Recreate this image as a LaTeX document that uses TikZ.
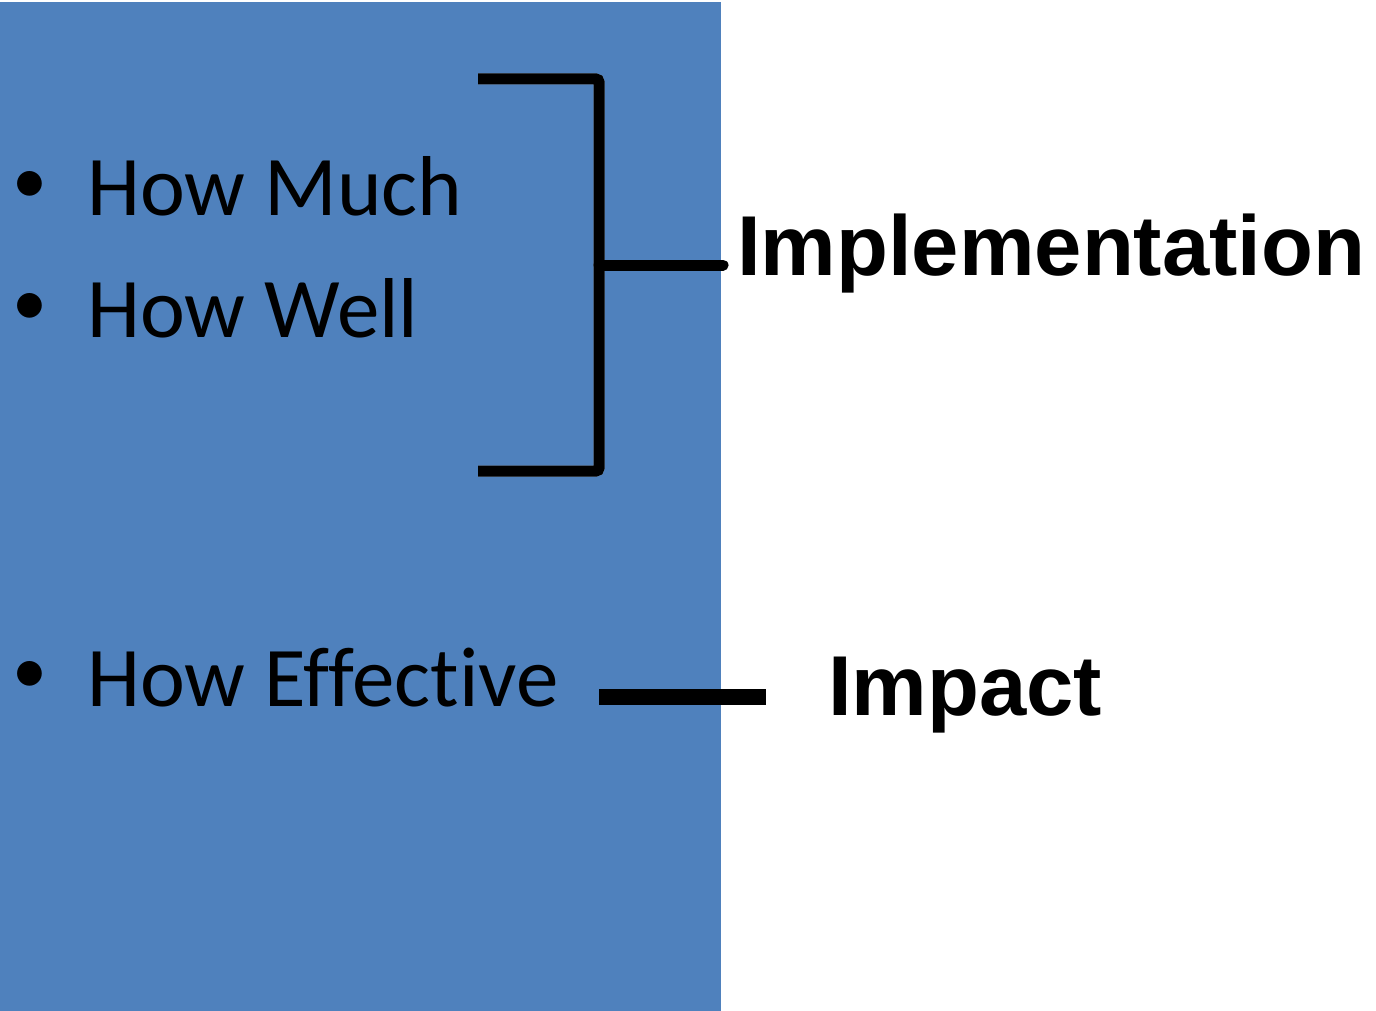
\documentclass[tikz,border=0pt]{standalone}
\usepackage{fontspec}
\setmainfont{Carlito}[Ligatures={NoCommon}]
\newfontfamily\arialb{Liberation Sans Bold}
\definecolor{slideblue}{HTML}{4F81BD}
\begin{document}
\begin{tikzpicture}[x=1pt,y=-1pt,
  itemtext/.style={anchor=base west,inner sep=0pt,font=\fontsize{85}{85}\selectfont},
  bul/.style={anchor=center,inner sep=0pt,font=\fontsize{70}{70}\selectfont},
  label/.style={anchor=base west,inner sep=0pt,font=\fontsize{85}{85}\selectfont\arialb},
  brk/.style={line width=11pt,black,rounded corners=3pt},
  shad/.style={line width=11pt,black!25,opacity=0.8},
  thick line/.style={line width=16pt,black}]
\useasboundingbox (0,0) rectangle (1376,1011);
\fill[slideblue] (0,2) rectangle (721,1011);
% bullets and item texts
\node[bul] (b1) at (30,187) {•};
\node[itemtext] (much) at (87,215) {How Much};
\node[bul] (b2) at (30,309) {•};
\node[itemtext] (well) at (87,337) {How Well};
\node[bul] (b3) at (30,677) {•};
\node[itemtext] (eff) at (87,706) {How Effective};
% labels
\node[label] (impl) at (737,275) {Implementation};
\node[label] (imp) at (828,715) {Impact};
% bracket coordinates
\coordinate (tl) at (478,79);
\coordinate (tr) at (599,79);
\coordinate (br) at (599,471);
\coordinate (bl) at (478,471);
\coordinate (mid) at (599,265);
\coordinate (midend) at (723,265);
\coordinate (ia) at (599,697);
\coordinate (ib) at (766,697);
% shadows
\begin{scope}[shift={(3,3)}]
\draw[shad,rounded corners=3pt] (tl) -- (tr) -- (br) -- (bl);
\draw[shad,line cap=round] (mid) -- (midend);
\draw[shad,line width=16pt] (ia) -- (ib);
\end{scope}
% bracket
\draw[brk] (tl) -- (tr) -- (br) -- (bl);
\draw[brk,line cap=round] (mid) -- (midend);
\draw[thick line] (ia) -- (ib);
\end{tikzpicture}
\end{document}
